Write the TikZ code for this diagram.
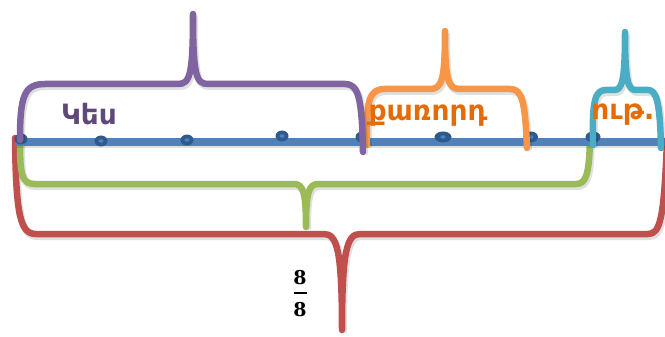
\documentclass[tikz,border=0pt]{standalone}
\usepackage{fontspec}
\usetikzlibrary{shapes.geometric}
\newfontfamily\armfont{DejaVu Sans}
\newfontfamily\numfont{DejaVu Serif}
\newcommand{\fraclabelfont}{\numfont\bfseries\fontsize{19}{21}\selectfont}
\newcommand{\armlabelfont}{\armfont\bfseries\fontsize{28}{30}\selectfont}
\definecolor{cblue}{HTML}{4F81BD}
\definecolor{cdot}{HTML}{2F5A8E}
\definecolor{cpurp}{HTML}{8064A2}
\definecolor{corange}{HTML}{F79646}
\definecolor{ccyan}{HTML}{4BACC6}
\definecolor{cgreen}{HTML}{9BBB59}
\definecolor{cred}{HTML}{C0504D}
\definecolor{tpurp}{HTML}{5F497A}
\definecolor{torange}{HTML}{E36C09}
\tikzset{
  bracestroke/.style={line width=6.5pt, line cap=round, line join=round,
    preaction={draw=black, opacity=0.12, line width=7pt, transform canvas={shift={(1.5pt,-2.5pt)}}}},
  dotnode/.style={ellipse, fill=cdot, inner sep=0pt, minimum height=11pt},
  dotcore/.style={ellipse, fill=cblue, inner sep=0pt, minimum width=5pt, minimum height=3.5pt},
  lbl/.style={font=\armlabelfont, inner sep=0pt},
  numlbl/.style={font=\fraclabelfont, inner sep=0pt}
}
\begin{document}
\begin{tikzpicture}[x=1pt,y=-1pt]
\useasboundingbox (0,0) rectangle (665,337);
\draw[bracestroke, draw=cred] (15,138) .. controls (16,215) and (20,234) .. (36,234) -- (324,234) .. controls (337,234) and (342,250) .. (342,330) .. controls (342,250) and (347,234) .. (360,234) -- (648,234) .. controls (660,234) and (664,220) .. (667,140);
\draw[bracestroke, draw=cgreen] (20,142) .. controls (20,176) and (22,184) .. (35,184) -- (294,184) .. controls (303,184) and (306,192) .. (306,227) .. controls (306,192) and (309,184) .. (318,184) -- (576,184) .. controls (586,184) and (589,175) .. (590,140);
\coordinate (L0) at (15,142);
\coordinate (L1) at (665,142);
\draw[bracestroke, line cap=butt, line width=7.5pt, draw=cblue] (L0) -- (L1);
\node[dotnode, minimum width=13pt] (d0) at (21,139) {};
\node[dotnode, minimum width=13pt] (d1) at (101,141) {};
\node[dotnode, minimum width=13pt] (d2) at (187,140) {};
\node[dotnode, minimum width=13pt] (d3) at (282,136) {};
\node[dotnode, minimum width=13pt] (d4) at (362,137) {};
\node[dotnode, minimum width=17pt] (d5) at (443,137) {};
\node[dotnode, minimum width=14pt] (d6) at (531,137) {};
\node[dotnode, minimum width=15pt] (d7) at (593,137) {};
\foreach \n in {d0,d1,d2,d3,d4,d5,d6,d7}{ \node[dotcore] at (\n) {}; }
\draw[bracestroke, draw=corange] (367,145) .. controls (366,100) and (369,89) .. (385,89) -- (430,89) .. controls (442,89) and (445,80) .. (445,31) .. controls (445,80) and (448,89) .. (460,89) -- (510,89) .. controls (522,89) and (525,100) .. (527,148);
\draw[bracestroke, draw=ccyan] (593,145) .. controls (592,100) and (595,90) .. (606,90) -- (614,90) .. controls (622,90) and (625,82) .. (625,32) .. controls (625,82) and (628,90) .. (636,90) -- (648,90) .. controls (656,90) and (660,100) .. (661,148);
\draw[bracestroke, draw=cpurp] (20,140) .. controls (20,96) and (24,84) .. (45,84) -- (178,84) .. controls (190,84) and (193,75) .. (193,14) .. controls (193,75) and (196,84) .. (208,84) -- (345,84) .. controls (358,84) and (362,96) .. (363,152);
\node[lbl, text=tpurp] (half) at (89,114) {Կես};
\node[lbl, text=torange] (quarter) at (428,116) {քառորդ};
\node[lbl, text=torange] (eighth) at (623,115) {ութ.};
\node[numlbl] (num) at (300,278) {8};
\node[numlbl] (den) at (300,310) {8};
\coordinate (bar0) at (293.5,293);
\coordinate (bar1) at (306.5,293);
\draw[line width=2pt] (bar0) -- (bar1);
\end{tikzpicture}
\end{document}
